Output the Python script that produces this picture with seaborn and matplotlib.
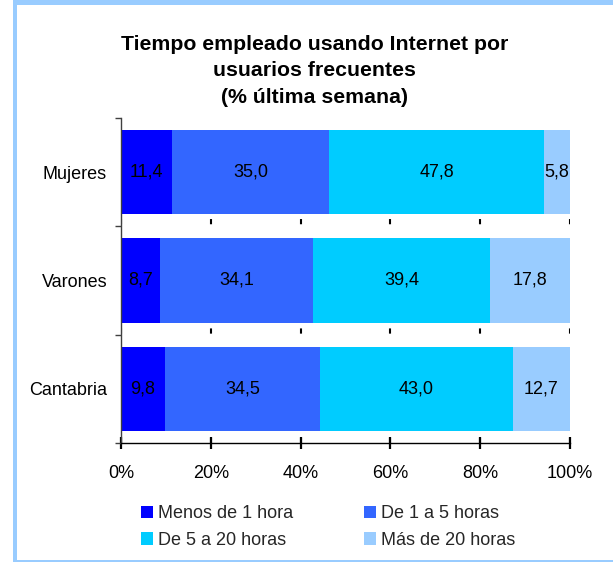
import seaborn as sns
import matplotlib.pyplot as plt
from matplotlib.patches import Patch, Rectangle

regions = ["Mujeres", "Varones", "Cantabria"]
categories = ["Menos de 1 hora", "De 1 a 5 horas", "De 5 a 20 horas", "Más de 20 horas"]
menos_1 = [11.4, 8.7, 9.8]
de_1_a_5 = [35.0, 34.1, 34.5]
de_5_a_20 = [47.8, 39.4, 43.0]
mas_20 = [5.8, 17.8, 12.7]
colors = ["#0000FF", "#3366FF", "#00CCFF", "#99CCFF"]
xticks = [0, 20, 40, 60, 80, 100]

series = [menos_1, de_1_a_5, de_5_a_20, mas_20]

sns.set_theme(style="white")
plt.rcParams["font.family"] = ["Liberation Sans", "DejaVu Sans"]

W, H = 613, 562
fig = plt.figure(figsize=(W / 100, H / 100), dpi=100)
ax = fig.add_axes([121 / W, 1 - 443 / H, 449 / W, 325 / H])

# cumulative sums, drawn from the widest down so each segment shows
cums = []
run = [0.0] * len(regions)
for s in series:
    run = [a + b for a, b in zip(run, s)]
    cums.append(run)

ax.set_axisbelow(True)
ax.xaxis.grid(True, linestyle=(0, (2.5, 8)), color="black", linewidth=1.5)

for cum, col in reversed(list(zip(cums, colors))):
    sns.barplot(x=cum, y=regions, orient="h", color=col, saturation=1,
                width=0.78, ax=ax, zorder=2, edgecolor="none", linewidth=0)

for i, reg in enumerate(regions):
    start = 0.0
    for s in series:
        v = s[i]
        ax.text(start + v / 2, i, f"{v:.1f}".replace(".", ","), ha="center",
                va="center", fontsize=13, color="black", zorder=3)
        start += v

ax.set_xlim(0, 100)
ax.set_xticks(xticks)
ax.set_xticklabels([f"{t}%" for t in xticks])
ax.set_xlabel("")
ax.set_ylabel("")
ax.set_yticks([-0.5, 0.5, 1.5, 2.5], minor=True)
ax.tick_params(axis="y", which="major", length=0, pad=10, labelsize=13,
               labelcolor="black")
ax.tick_params(axis="y", which="minor", left=True, length=4, width=1,
               color="#404040", direction="out")
ax.tick_params(axis="x", which="major", bottom=True, length=8, width=1.6,
               color="black", direction="inout", pad=12, labelsize=13,
               labelcolor="black")
for side in ["top", "right"]:
    ax.spines[side].set_visible(False)
ax.spines["left"].set_color("#404040")
ax.spines["left"].set_linewidth(1)
ax.spines["bottom"].set_color("black")
ax.spines["bottom"].set_linewidth(1)

fig.text(314.5 / W, 1 - 71 / H,
         "Tiempo empleado usando Internet por\nusuarios frecuentes\n(% última semana)",
         ha="center", va="center", fontsize=15.3, fontweight="bold",
         linespacing=1.5, color="black")

handles = [Patch(facecolor=c, edgecolor="none") for c in colors]
order = [0, 2, 1, 3]
fig.legend([handles[k] for k in order], [categories[k] for k in order],
           ncol=2, loc="upper left", bbox_to_anchor=(141 / W, 1 - 505 / H),
           frameon=False, fontsize=13, handlelength=0.67, handleheight=0.67,
           handletextpad=0.28, columnspacing=3.9, labelspacing=0.55,
           borderaxespad=0, borderpad=0)

# light blue frame (top, left, bottom edges)
frame = "#99CCFF"
for x0, y0, w, h in [(13, 0, 600, 5), (13, 0, 4, 562), (13, 559.5, 600, 2.5)]:
    fig.patches.append(Rectangle((x0 / W, 1 - (y0 + h) / H), w / W, h / H,
                                 transform=fig.transFigure, facecolor=frame,
                                 edgecolor="none", zorder=0))

fig.savefig("out.png", dpi=100)
